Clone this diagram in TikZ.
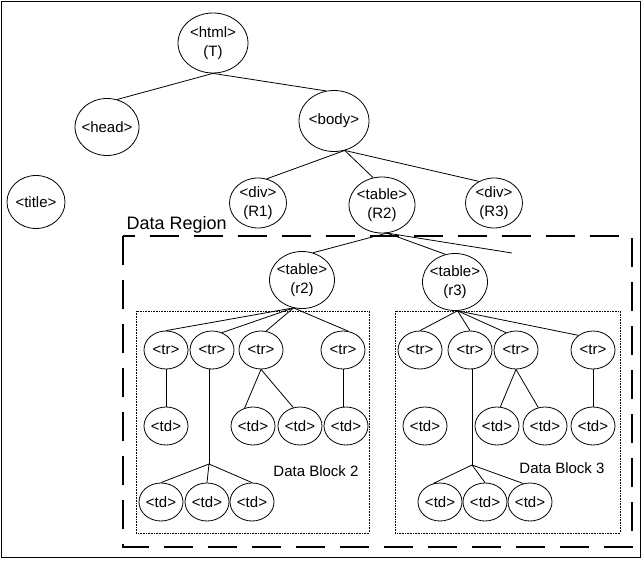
\documentclass[tikz,border=0pt]{standalone}
\usepackage{fontspec}
\setmainfont{Liberation Sans}
\usetikzlibrary{shapes.geometric}

\begin{document}
\begin{tikzpicture}[x=1pt,y=-1pt,
	elem/.style={draw,ellipse,line width=0.8pt,inner sep=-8pt,align=center,font=\fontsize{15}{19}\selectfont},
	rownode/.style={elem,minimum width=44pt,minimum height=38pt},
	regnode/.style={elem,minimum width=57pt,minimum height=50pt},
	tabnode/.style={elem,minimum width=65pt,minimum height=57pt},
	link/.style={line width=0.8pt},
	blockbox/.style={line width=0.6pt,densely dotted},
	lbl/.style={font=\fontsize{15}{18}\selectfont}]
	
	% 定义各行的纵坐标
	\def\ytr{350} % <tr> 行
	\def\ytd{426} % 第一行 <td>
	\def\ytdd{502} % 第二行 <td>
	
	% 画布大小与外框
	\useasboundingbox (0,0) rectangle (642,561);
	\draw[line width=1pt] (1.5,1.5) rectangle (640.5,557);
	
	% 上层节点
	\node[elem,minimum width=70pt,minimum height=60pt] (T) at (213,43) {<html>\\(T)};
	\node[elem,minimum width=64pt,minimum height=57pt] (Head) at (107,127) {<head>};
	\node[elem,minimum width=70pt,minimum height=61pt] (Body) at (334,121) {<body>};
	\node[elem,minimum width=58pt,minimum height=53pt] (Title) at (36,202) {<title>};
	\node[regnode] (R1) at (258,203) {<div>\\(R1)};
	\node[elem,minimum width=66pt,minimum height=56pt] (R2) at (382,205) {<table>\\(R2)};
	\node[regnode] (R3) at (494,203) {<div>\\(R3)};
	
	% 上层连线
	\draw[link] (T.south) -- (Head.70);
	\draw[link] (T.south) -- (Body.105);
	\draw[link] (Body.-70) -- (R1.70);
	\draw[link] (Body.-70) -- (R2.108);
	\draw[link] (Body.-70) -- (R3.125);
	
	% 数据区域 (虚线框)
	\draw[line width=1.8pt,dash pattern=on 29pt off 15pt] (123,236) rectangle (632,547);
	\node[anchor=base west,font=\fontsize{18}{22}\selectfont] (dr) at (123,230) {Data Region};
	
	% 两个表格
	\node[tabnode] (r2) at (302,280) {<table>\\(r2)};
	\node[tabnode] (r3) at (455,282) {<table>\\(r3)};
	\coordinate (rest) at (512,253); % 向右延伸的线的端点
	\draw[link] (R2.-80) -- (r2.68);
	\draw[link] (R2.-80) -- (r3.109);
	\draw[link] (R2.-80) -- (rest);
	
	% 数据块 2
	\draw[blockbox] (136,311) rectangle (369,533);
	\node[rownode] (a1) at (166,\ytr) {<tr>};
	\node[rownode] (a2) at (212,\ytr) {<tr>};
	\node[rownode] (a3) at (261,\ytr) {<tr>};
	\node[rownode] (a4) at (343,\ytr) {<tr>};
	\node[rownode] (c1) at (166,\ytd) {<td>};
	\node[rownode] (c2) at (253,\ytd) {<td>};
	\node[rownode] (c3) at (300,\ytd) {<td>};
	\node[rownode] (c4) at (346,\ytd) {<td>};
	\node[rownode] (d1) at (161,\ytdd) {<td>};
	\node[rownode] (d2) at (207,\ytdd) {<td>};
	\node[rownode] (d3) at (252,\ytdd) {<td>};
	\node[lbl] (blk2) at (316,471) {Data Block 2};
	\coordinate (ja) at (209,464); % 分叉点
	
	\draw[link] (r2.-107) -- (a1.north);
	\draw[link] (r2.-107) -- (a2.60);
	\draw[link] (r2.-107) -- (a3.75);
	\draw[link] (r2.-107) -- (a4.75);
	\draw[link] (a1.south) -- (c1.north);
	\draw[link] (ja |- a2.south) -- (ja);
	\draw[link] (ja) -- (d1.north);
	\draw[link] (ja) -- (d2.north);
	\draw[link] (ja) -- (d3.north);
	\draw[link] (a3.south) -- (c2.115);
	\draw[link] (a3.south) -- (c3.110);
	\draw[link] (a4.south) -- (a4.south |- c4.north);
	
	% 数据块 3
	\draw[blockbox] (395,311) rectangle (620,533);
	\node[rownode] (b1) at (420,\ytr) {<tr>};
	\node[rownode] (b2) at (470,\ytr) {<tr>};
	\node[rownode] (b3) at (516,\ytr) {<tr>};
	\node[rownode] (b4) at (593,\ytr) {<tr>};
	\node[rownode] (e1) at (425,\ytd) {<td>};
	\node[rownode] (e2) at (497,\ytd) {<td>};
	\node[rownode] (e3) at (545,\ytd) {<td>};
	\node[rownode] (e4) at (593,\ytd) {<td>};
	\node[rownode] (f1) at (440,\ytdd) {<td>};
	\node[rownode] (f2) at (485,\ytdd) {<td>};
	\node[rownode] (f3) at (530,\ytdd) {<td>};
	\node[lbl] (blk3) at (562,468) {Data Block 3};
	\coordinate (jb) at (472,465); % 分叉点
	
	\draw[link] (r3.-85) -- (b1.north);
	\draw[link] (r3.-85) -- (b2.north);
	\draw[link] (r3.-85) -- (b3.120);
	\draw[link] (r3.-85) -- (b4.135);
	\draw[link] (jb |- b2.south) -- (jb);
	\draw[link] (jb) -- (f1.110);
	\draw[link] (jb) -- (f2.north);
	\draw[link] (jb) -- (f3.110);
	\draw[link] (b3.south) -- (e2.80);
	\draw[link] (b3.south) -- (e3.110);
	\draw[link] (b4.south) -- (e4.north);
	
\end{tikzpicture}
\end{document}
